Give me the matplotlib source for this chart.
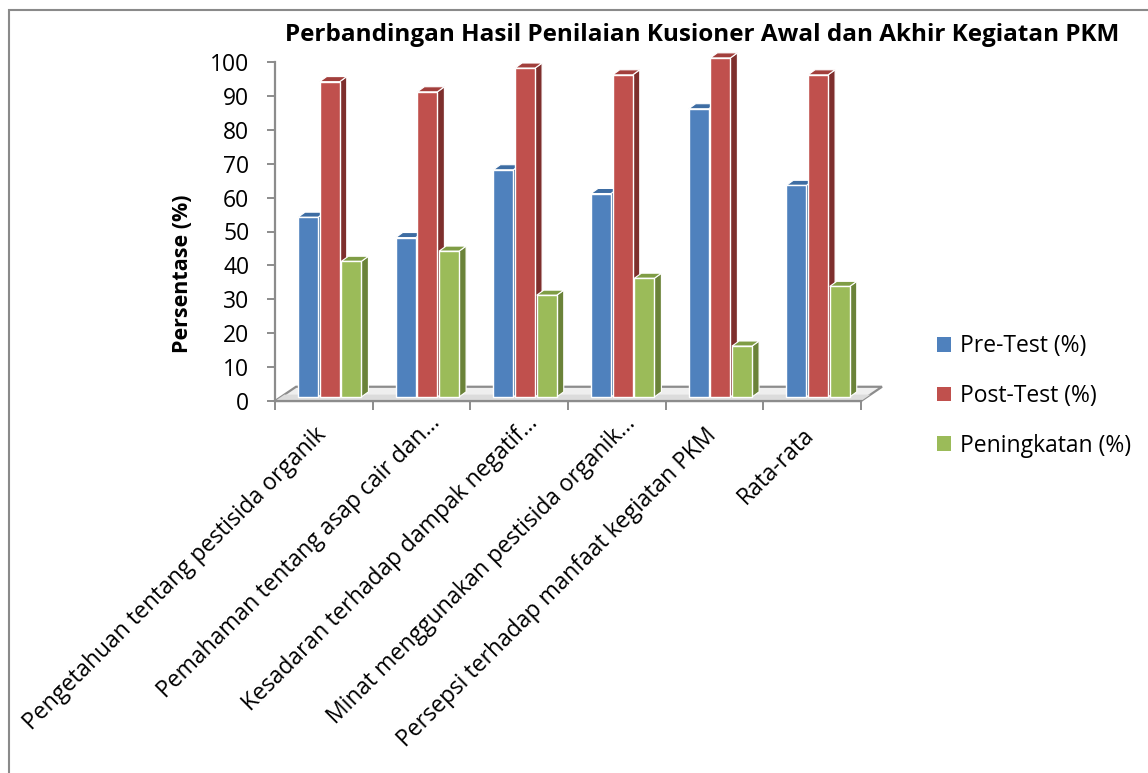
import matplotlib
matplotlib.use("Agg")
import matplotlib.pyplot as plt
from matplotlib.patches import Polygon, Rectangle
from matplotlib.transforms import offset_copy
import numpy as np

# ---- data ----
categories = [
    "Pengetahuan tentang pestisida organik",
    "Pemahaman tentang asap cair dan…",
    "Kesadaran terhadap dampak negatif…",
    "Minat menggunakan pestisida organik…",
    "Persepsi terhadap manfaat kegiatan PKM",
    "Rata-rata",
]
series_names = ["Pre-Test (%)", "Post-Test (%)", "Peningkatan (%)"]
pre_test = [53, 47, 67, 60, 85, 62.4]
post_test = [93, 90, 97, 95, 100, 95]
peningkatan = [40, 43, 30, 35, 15, 32.6]
y_ticks = [0, 10, 20, 30, 40, 50, 60, 70, 80, 90, 100]
title = "Perbandingan Hasil Penilaian Kusioner Awal dan Akhir Kegiatan PKM"
y_label = "Persentase (%)"

# ---- style ----
FONT = "Open Sans"
plt.rcParams["font.family"] = [FONT, "DejaVu Sans"]
FS = 16.5
front_colors = ["#4F81BD", "#C0504D", "#9BBB59"]
side_colors = ["#3A6595", "#7E2F2D", "#6B8339"]
top_colors = ["#3E6DA3", "#A23F3C", "#7F9D45"]
axis_gray = "#8C8C8C"

W, H = 1148, 773
fig = plt.figure(figsize=(W / 100, H / 100), dpi=100)
fig.patch.set_facecolor("white")

# outer chart border
fig.patches.append(Rectangle((9 / W, -0.05), 1.1, (H - 10) / H + 0.05,
                             transform=fig.transFigure, fill=False,
                             edgecolor="#8A8A8A", linewidth=1.5))

ax_left, ax_right = 275, 861
ax_top, ax_bottom = 62, 401
ax = fig.add_axes([ax_left / W, (H - ax_bottom) / H,
                   (ax_right - ax_left) / W, (ax_bottom - ax_top) / H])
ax.set_facecolor("none")
n = len(categories)
ax.set_xlim(-0.5, n - 0.5)
ax.set_ylim(0, 100)

# depth geometry (data units)
floor_dx, floor_dy = 0.215, 4.2
bar_off_x, bar_off_y = 0.06, 1.2
bar_dx, bar_dy = 0.072, 1.5
bar_w, bar_step = 0.205, 0.222

# floor
x0, x1 = -0.5, n - 0.5
floor = Polygon([(x0, 0), (x1, 0), (x1 + floor_dx, floor_dy), (x0 + floor_dx, floor_dy)],
                closed=True, facecolor="#EFEFEF", edgecolor=axis_gray, linewidth=1.6,
                clip_on=False, zorder=1)
ax.add_patch(floor)
shade = Polygon([(x0, 0), (x1, 0), (x1 + floor_dx * 0.45, floor_dy * 0.45),
                 (x0 + floor_dx * 0.45, floor_dy * 0.45)],
                closed=True, facecolor="#DCDCDC", edgecolor="none",
                clip_on=False, zorder=1.1)
ax.add_patch(shade)

all_series = [pre_test, post_test, peningkatan]
xc = np.arange(n)
for i in range(n):
    for j, vals in enumerate(all_series):
        v = vals[i]
        left = xc[i] + bar_off_x + (j - 1) * bar_step - bar_w / 2
        right = left + bar_w
        b = bar_off_y
        t = bar_off_y + v
        z = 3 + i * 0.1 + j * 0.01
        side = Polygon([(right, b), (right + bar_dx, b + bar_dy),
                        (right + bar_dx, t + bar_dy), (right, t)],
                       closed=True, facecolor=side_colors[j], edgecolor="white",
                       linewidth=0.8, zorder=z, clip_on=False)
        top = Polygon([(left, t), (right, t), (right + bar_dx, t + bar_dy),
                       (left + bar_dx, t + bar_dy)],
                      closed=True, facecolor=top_colors[j], edgecolor="white",
                      linewidth=0.8, zorder=z, clip_on=False)
        ax.add_patch(side)
        ax.add_patch(top)
        ax.bar(left, v, width=bar_w, bottom=b, align="edge",
               color=front_colors[j], edgecolor="white", linewidth=1.0,
               zorder=z + 0.001, clip_on=False)

# axes styling
for s in ["top", "right", "bottom"]:
    ax.spines[s].set_visible(False)
ax.spines["left"].set_color(axis_gray)
ax.spines["left"].set_linewidth(1.6)
ax.axhline(0, color=axis_gray, linewidth=1.6, zorder=2, clip_on=False)
ax.set_yticks(y_ticks)
ax.set_yticklabels([str(t) for t in y_ticks])
ax.tick_params(axis="y", direction="out", length=5.5, width=1.4, color=axis_gray,
               pad=13, labelsize=FS)
ax.set_xticks(np.arange(-0.5, n, 1.0))
ax.set_xticklabels([])
ax.tick_params(axis="x", direction="out", length=6.5, width=1.4, color=axis_gray)

# category labels (rotated)
for i, lab in enumerate(categories):
    truncated = lab.endswith("…")
    dxp = 19 if truncated else 3
    dyp = -23 if truncated else -35
    tr = offset_copy(ax.transData, fig=fig, x=dxp, y=dyp, units="dots")
    ax.text(xc[i], 0, lab, transform=tr, rotation=45, rotation_mode="anchor",
            ha="right", va="baseline", fontsize=FS, color="black", clip_on=False)

ax.set_ylabel(y_label, fontsize=15.5, fontweight="bold")
ax.yaxis.set_label_coords(-0.14, 0.375)

fig.text(702 / W, 1 - 35 / H, title, ha="center", va="center",
         fontsize=17.5, fontweight="bold")

# legend
handles = [Rectangle((0, 0), 1, 1, facecolor=c, edgecolor="none") for c in front_colors]
leg = fig.legend(handles, series_names, loc="center left",
                 bbox_to_anchor=(926 / W, 1 - 396 / H), frameon=False,
                 fontsize=FS, handlelength=0.6, handleheight=0.6,
                 handletextpad=0.4, labelspacing=1.12, borderpad=0)

fig.savefig("out.png", dpi=100, facecolor="white")
